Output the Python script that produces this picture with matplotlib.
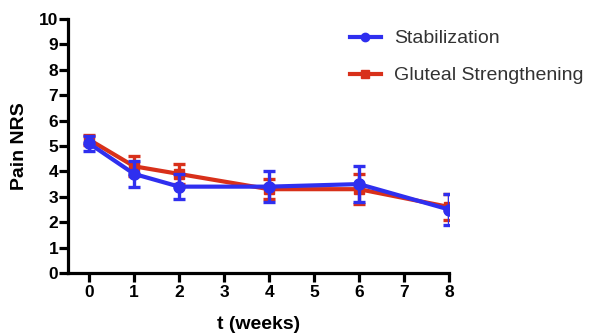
import matplotlib
matplotlib.use("Agg")
import matplotlib.pyplot as plt
from matplotlib.lines import Line2D

weeks = [0, 1, 2, 4, 6, 8]
stab_mean = [5.1, 3.9, 3.4, 3.4, 3.5, 2.5]
stab_err = [0.3, 0.5, 0.5, 0.6, 0.7, 0.6]
glut_mean = [5.25, 4.2, 3.9, 3.3, 3.3, 2.6]
glut_err = [0.2, 0.4, 0.4, 0.4, 0.6, 0.5]
xticks = [0, 1, 2, 3, 4, 5, 6, 7, 8]
yticks = list(range(0, 11))

plt.rcParams['font.family'] = ['Liberation Sans', 'DejaVu Sans']

fig = plt.figure(figsize=(5.93, 3.36), dpi=100)
ax = fig.add_axes([68/593, 1-273/336, (449-68)/593, (273-19)/336])

red = '#D8301A'
blue = '#2F2FEF'
ax.errorbar(weeks, glut_mean, yerr=glut_err, color=red, lw=3.0, marker='s', ms=7,
            capsize=4, capthick=2.4, elinewidth=2.4, zorder=2)
ax.errorbar(weeks, stab_mean, yerr=stab_err, color=blue, lw=3.0, marker='o', ms=8,
            capsize=4, capthick=2.4, elinewidth=2.4, zorder=3)

ax.set_xlim(-0.47, 8)
ax.set_ylim(0, 10)
ax.set_xticks(xticks)
ax.set_yticks(yticks)
for s in ['top', 'right']:
    ax.spines[s].set_visible(False)
for s in ['left', 'bottom']:
    ax.spines[s].set_linewidth(2.3)
ax.tick_params(axis='both', width=2.3, length=6.5, labelsize=12.5)
for lbl in ax.get_xticklabels() + ax.get_yticklabels():
    lbl.set_fontweight('bold')
ax.tick_params(axis='x', pad=2)
ax.tick_params(axis='y', pad=0.5)
ax.set_ylabel('Pain NRS', fontsize=14, fontweight='bold', labelpad=8)
ax.set_xlabel('t (weeks)', fontsize=14, fontweight='bold', labelpad=12)

handles = [Line2D([], [], color=blue, lw=3.0, marker='o', ms=6),
           Line2D([], [], color=red, lw=3.0, marker='s', ms=5.5)]
labels = ['Stabilization', 'Gluteal Strengthening']
leg = ax.legend(handles, labels,
                loc='upper left', bbox_to_anchor=(342/593, 1-22/336), bbox_transform=fig.transFigure,
                borderaxespad=0, frameon=False, fontsize=14, handlelength=1.6,
                labelspacing=1.0, handletextpad=0.7)
for t in leg.get_texts():
    t.set_color('#333333')

fig.savefig('out.png', dpi=100)
